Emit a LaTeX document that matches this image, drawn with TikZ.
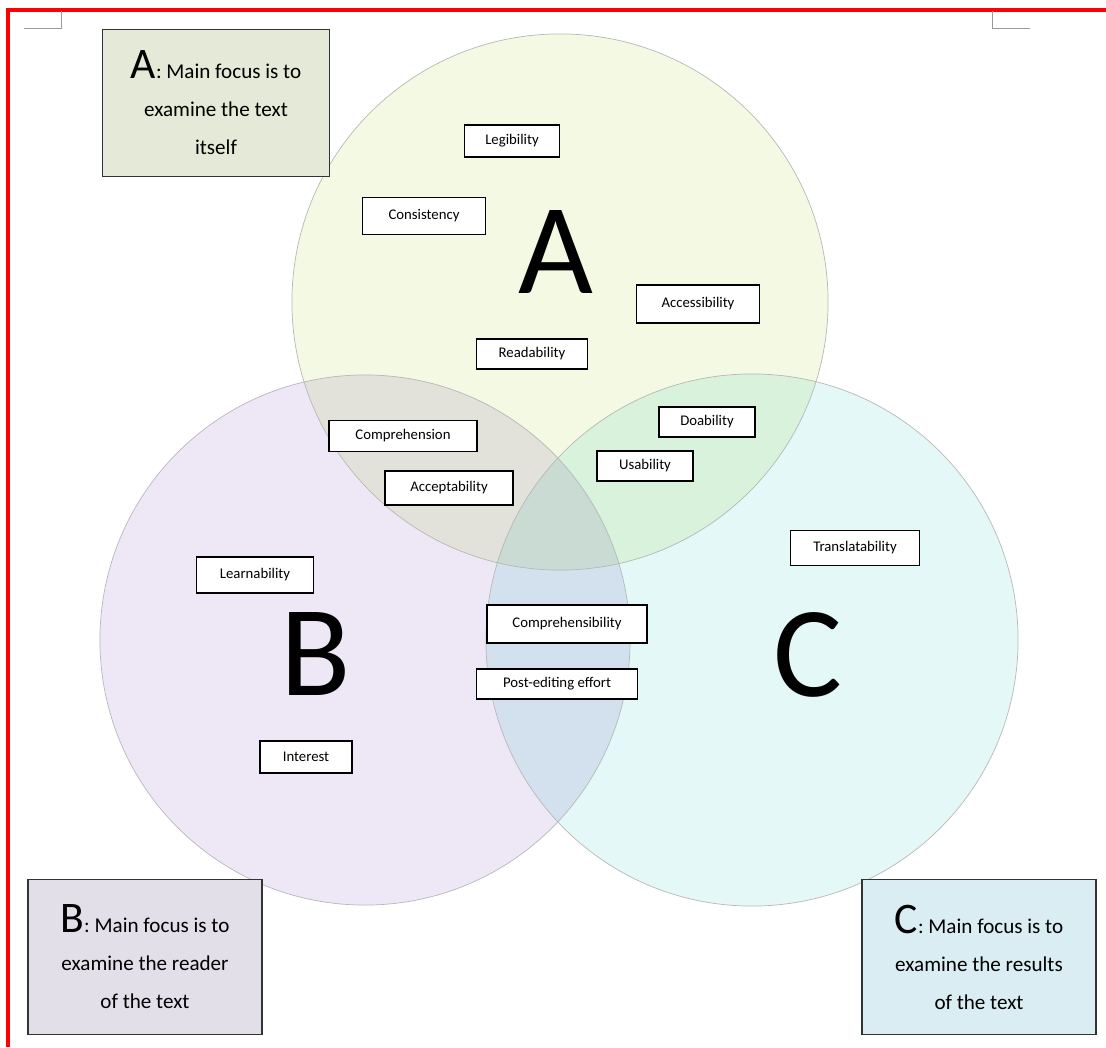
\documentclass[tikz,border=0pt]{standalone}
\usepackage{fontspec}
\setmainfont{Carlito}
\usepackage{xcolor}
\usetikzlibrary{positioning}

\definecolor{circA}{HTML}{F3F9E3}
\definecolor{circB}{HTML}{EEE8F6}
\definecolor{circC}{HTML}{E3F8F7}
\definecolor{keyAfill}{HTML}{E4EAD7}
\definecolor{keyBfill}{HTML}{E3DFE9}
\definecolor{keyCfill}{HTML}{DAEDF2}

\newcommand{\keyletter}[1]{{\fontsize{31}{31}\selectfont #1}}

\tikzset{
  boxw/.style={minimum width=#1*0.025cm},
  boxh/.style={minimum height=#1*0.025cm},
  tag/.style={draw, line width=1.2pt, fill=white, inner sep=0pt, boxh=32,
    font=\fontsize{10.5}{12}\selectfont},
  key/.style={draw=black!80, line width=1.1pt, inner sep=0pt, align=center,
    boxw=234, boxh=155, font=\fontsize{15}{27}\selectfont},
  bigletter/.style={inner sep=0pt, font=\fontsize{92}{92}\selectfont},
}

\begin{document}
\begin{tikzpicture}[x=0.025cm, y=-0.025cm]
  \useasboundingbox (0,0) rectangle (1106,1047);

  \begin{scope}[blend group=multiply]
    \fill[circA] (560,302) circle[radius=6.7cm];
    \fill[circB] (365,640) circle[radius=6.625cm];
    \fill[circC] (752,640) circle[radius=6.65cm];
  \end{scope}
  \draw[black!28, line width=0.5pt] (560,302) circle[radius=6.7cm]
    (365,640) circle[radius=6.625cm]
    (752,640) circle[radius=6.65cm];

  \draw[red, line width=2.4pt] (8,1047) -- (8,10) -- (1106,10);
  \draw[black!40, line width=0.6pt] (24,28) -- (61,28) -- (61,11)
    (992,11) -- (992,28) -- (1030,28);

  \node[bigletter] (bigA) at (556,252) {A};
  \node[bigletter] (bigB) at (316,654) {B};
  \node[bigletter] (bigC) at (808,655) {C};

  \node[tag, boxw=95] (legib) at (512,141) {Legibility};
  \node[tag, boxw=123, boxh=37] (consist) at (424,216) {Consistency};
  \node[tag, boxw=123, boxh=38] (access) at (698,304) {Accessibility};
  \node[tag, boxw=111, boxh=30] (read) at (532,354) {Readability};
  \node[tag, boxw=148, boxh=31] (compr) at (403,436) {Comprehension};
  \node[tag, boxw=128, boxh=34] (accept) at (449,488) {Acceptability};
  \node[tag, boxw=96, boxh=30] (doab) at (707,422) {Doability};
  \node[tag, boxw=96, boxh=30] (usab) at (645,466) {Usability};
  \node[tag, boxw=129, boxh=35] (transl) at (855,548) {Translatability};
  \node[tag, boxw=117, boxh=36] (learn) at (255,575) {Learnability};
  \node[tag, boxw=160, boxh=38] (comprs) at (567,624) {Comprehensibility};
  \node[tag, boxw=161, boxh=30] (postedit) at (557,684) {Post-editing effort};
  \node[tag, boxw=92] (inter) at (306,757) {Interest};

  \node[key, fill=keyAfill, boxw=227, boxh=147] (keyA) at (216,103)
    {\keyletter{A}: Main focus is to\\examine the text\\itself};
  \node[key, fill=keyBfill] (keyB) at (145,957)
    {\keyletter{B}: Main focus is to\\examine the reader\\of the text};
  \node[key, fill=keyCfill] (keyC) at (979,957)
    {\keyletter{C}: Main focus is to\\examine the results\\of the text};
\end{tikzpicture}
\end{document}
